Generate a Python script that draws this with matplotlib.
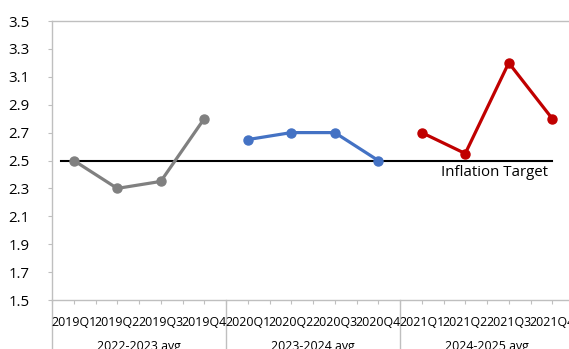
import matplotlib
matplotlib.use("Agg")
import matplotlib.pyplot as plt
from matplotlib.lines import Line2D

plt.rcParams['font.family'] = ['Open Sans', 'DejaVu Sans']

quarters = ["2019Q1", "2019Q2", "2019Q3", "2019Q4",
            "2020Q1", "2020Q2", "2020Q3", "2020Q4",
            "2021Q1", "2021Q2", "2021Q3", "2021Q4"]
groups = ["2022-2023 avg", "2023-2024 avg", "2024-2025 avg"]
series_2022_2023 = [2.5, 2.3, 2.35, 2.8]
series_2023_2024 = [2.65, 2.7, 2.7, 2.5]
series_2024_2025 = [2.7, 2.55, 3.2, 2.8]
inflation_target = 2.5
yticks = [1.5, 1.7, 1.9, 2.1, 2.3, 2.5, 2.7, 2.9, 3.1, 3.3, 3.5]

W, H = 569, 349
fig = plt.figure(figsize=(W / 100, H / 100), dpi=100)
left, right, top, bottom = 52, 574, 21, 300
ax = fig.add_axes([left / W, (H - bottom) / H, (right - left) / W, (bottom - top) / H])

colors = ["#808080", "#4472C4", "#C00000"]
all_series = [series_2022_2023, series_2023_2024, series_2024_2025]
for i, (s, c) in enumerate(zip(all_series, colors)):
    xs = list(range(4 * i, 4 * i + 4))
    ax.plot(xs, s, color=c, lw=2.3, marker='o', ms=6.5, zorder=3)

ax.plot([-0.3, 11], [inflation_target, inflation_target], color='black', lw=1.5, zorder=2)
ax.text(10.9, inflation_target - 0.03, "Inflation Target", ha='right', va='top', fontsize=10.8)

ax.set_xlim(-0.5, 11.5)
ax.set_ylim(1.5, 3.5)
ax.set_yticks(yticks)
ax.set_yticklabels([f"{v:.1f}" for v in yticks], fontsize=10.8)
ax.tick_params(axis='y', length=3, color='#bfbfbf', pad=13)

ticks = [x * 0.5 - 0.5 for x in range(25)]
ax.set_xticks(ticks)
ax.set_xticklabels([])
ax.tick_params(axis='x', length=3, color='#bfbfbf', direction='out')

for sp in ax.spines.values():
    sp.set_color('#bfbfbf')
    sp.set_linewidth(1)

# category labels
for i, q in enumerate(quarters):
    ax.text(i, -0.08, q, transform=ax.get_xaxis_transform(), ha='center', va='center',
            fontsize=8.9, clip_on=False)
for g, name in enumerate(groups):
    ax.text(4 * g + 1.5, -0.165, name, transform=ax.get_xaxis_transform(), ha='center',
            va='center', fontsize=8.9, clip_on=False)
# group separators
for b in [-0.5, 3.5, 7.5, 11.5]:
    ax.add_line(Line2D([b, b], [0, -0.2], transform=ax.get_xaxis_transform(),
                       color='#bfbfbf', lw=1, clip_on=False))

fig.savefig("out.png", dpi=100)
